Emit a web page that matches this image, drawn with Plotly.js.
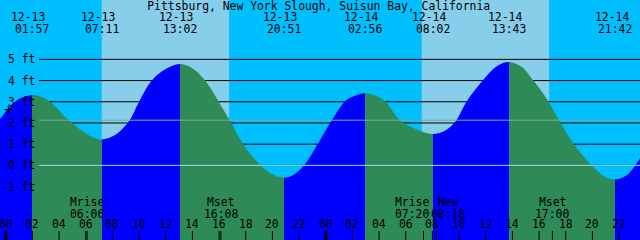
<!DOCTYPE html>
<html>
<head>
<meta charset="utf-8">
<script src="https://cdn.plot.ly/plotly-3.0.1.min.js"></script>
<style>
html,body{margin:0;padding:0;background:#00BFFF;}
#chart{width:640px;height:240px;}
</style>
</head>
<body>
<div id="chart"></div>
<script>
// ---------- data (hours counted from 12-13 00:00, heights in feet) ----------
const stationName = "Pittsburg, New York Slough, Suisun Bay, California";

const tideHours = [-0.43, 0.3, 1.05, 1.95, 2.6, 3.32, 4.58, 5.82, 6.5, 7.183,
  8.2, 9.2, 10.02, 10.95, 12.0, 13.033, 14.0, 14.95, 15.95, 16.88,
  17.82, 19.13, 20.0, 20.85, 21.6, 22.37, 23.57, 24.38, 25.45, 26.2,
  26.933, 27.7, 28.45, 29.57, 30.8, 32.033, 33.0, 33.7, 34.58, 35.78,
  36.8, 37.717, 38.7, 39.57, 40.7, 41.57, 42.62, 43.95, 44.9, 45.7,
  46.6, 47.57];
const tideFeet = [2.18, 2.75, 3.15, 3.32, 3.25, 3.0, 2.22, 1.58, 1.33, 1.22,
  1.43, 2.04, 3.03, 4.0, 4.54, 4.78, 4.58, 4.0, 3.03, 2.04,
  0.99, 0.0, -0.42, -0.58, -0.44, 0.0, 1.19, 2.04, 3.03, 3.28,
  3.40, 3.30, 3.03, 2.13, 1.70, 1.48, 1.66, 2.04, 3.03, 4.0,
  4.66, 4.87, 4.65, 4.0, 3.03, 2.04, 0.99, 0.0, -0.53, -0.66,
  -0.45, 0.34];

const extremeHours = [1.95, 7.183, 13.033, 20.85, 26.933, 32.033, 37.717, 45.7];
const extremeDates = ["12-13", "12-13", "12-13", "12-13", "12-14", "12-14", "12-14", "12-14"];
const extremeTimes = ["01:57", "07:11", "13:02", "20:51", "02:56", "08:02", "13:43", "21:42"];

const sunriseHours = [7.2, 31.2];
const sunsetHours = [16.75, 40.75];

const moonHours = [6.1, 16.133, 31.333, 32.3, 41.0];
const moonNames = ["Mrise", "Mset", "Mrise", "New", "Mset"];
const moonTimes = ["06:06", "16:08", "07:20", "08:18", "17:00"];

const hourTickHours = [0, 2, 4, 6, 8, 10, 12, 14, 16, 18, 20, 22,
  24, 26, 28, 30, 32, 34, 36, 38, 40, 42, 44, 46];
const hourTickLabels = ["00", "02", "04", "06", "08", "10", "12", "14", "16", "18", "20", "22",
  "00", "02", "04", "06", "08", "10", "12", "14", "16", "18", "20", "22"];

const depthFeet = [-1, 0, 1, 2, 3, 4, 5];
const datumFeet = 0;
const meanLevelFeet = 2.13;
const markFeet = 2.61;

// ---------- styling ----------
const FONT = "DejaVu Sans Mono";
const FS = 11.4;
const C_NIGHT = "#00BFFF", C_DAY = "#87CEEB", C_RISE = "#0000FF", C_FALL = "#2E8B57";
const X_RANGE = [-0.43, 47.57];
const Y_RANGE = [-3.52, 7.80];
const FLOOR = -10;
const LINE_X0 = 39 / 640;
const moonShift = [0, 0, -11.5, 12, 0];

// ---------- fill gradient: blue while rising, green while falling ----------
const t0 = tideHours[0], t1 = tideHours[tideHours.length - 1];
const bounds = [t0].concat(extremeHours, [t1]);
function feetAt(h) { return tideFeet[tideHours.indexOf(h)]; }
const colorscale = [];
for (let i = 0; i < bounds.length - 1; i++) {
  const a = bounds[i], b = bounds[i + 1];
  const col = feetAt(b) > feetAt(a) ? C_RISE : C_FALL;
  colorscale.push([(a - t0) / (t1 - t0), col]);
  colorscale.push([(b - t0) / (t1 - t0), col]);
}
colorscale[0][0] = 0;
colorscale[colorscale.length - 1][0] = 1;

const traces = [
  {
    x: [t0, t1], y: [FLOOR, FLOOR], mode: "lines",
    line: {width: 0, color: "rgba(0,0,0,0)"}, hoverinfo: "skip", showlegend: false
  },
  {
    x: tideHours, y: tideFeet, mode: "lines",
    line: {width: 0, shape: "spline", smoothing: 1, color: "rgba(0,0,0,0)"},
    fill: "tonexty",
    fillcolor: C_RISE,
    fillgradient: {type: "horizontal", start: t0, stop: t1, colorscale: colorscale},
    hoverinfo: "skip", showlegend: false
  }
];

// ---------- shapes ----------
const shapes = [];
// daylight bands
for (let i = 0; i < sunriseHours.length; i++) {
  shapes.push({type: "rect", layer: "below", xref: "x", yref: "paper",
    x0: sunriseHours[i], x1: sunsetHours[i], y0: 0, y1: 1,
    fillcolor: C_DAY, line: {width: 0}});
}
// depth lines (under the water)
depthFeet.forEach(f => shapes.push({type: "line", layer: "below", xref: "paper", yref: "y",
  x0: LINE_X0, x1: 1, y0: f, y1: f, line: {color: "#000", width: 1}}));
// datum and mean level lines (over everything)
shapes.push({type: "line", layer: "above", xref: "paper", yref: "y",
  x0: LINE_X0, x1: 1, y0: datumFeet, y1: datumFeet, line: {color: "#A4D9F2", width: 1}});
shapes.push({type: "line", layer: "above", xref: "paper", yref: "y",
  x0: LINE_X0, x1: 1, y0: meanLevelFeet, y1: meanLevelFeet, line: {color: "#78AC96", width: 1}});
// hour ticks
hourTickHours.forEach(h => shapes.push({type: "line", layer: "above", xref: "x", yref: "paper",
  x0: h, x1: h, y0: 0, y1: 9 / 240, line: {color: "#000", width: h % 24 === 0 ? 3 : 1}}));
// moon ticks
moonHours.forEach(h => shapes.push({type: "line", layer: "above", xref: "x", yref: "paper",
  x0: h, x1: h, y0: 0, y1: 9 / 240, line: {color: "#000", width: 1}}));

// ---------- annotations ----------
const ann = [];
const base = {showarrow: false, font: {family: FONT, size: FS, color: "#000"}};
extremeHours.forEach((h, i) => {
  ann.push(Object.assign({}, base, {xref: "x", yref: "paper", x: h, y: 1 - 17.3 / 240,
    xanchor: "center", yanchor: "middle", xshift: -3.4, text: extremeDates[i]}));
  ann.push(Object.assign({}, base, {xref: "x", yref: "paper", x: h, y: 1 - 29.3 / 240,
    xanchor: "center", yanchor: "middle", text: extremeTimes[i]}));
});
moonHours.forEach((h, i) => {
  ann.push(Object.assign({}, base, {xref: "x", yref: "paper", x: h, y: 1 - 201.7 / 240,
    xanchor: "center", yanchor: "middle", xshift: moonShift[i], text: moonNames[i]}));
  ann.push(Object.assign({}, base, {xref: "x", yref: "paper", x: h, y: 1 - 213.5 / 240,
    xanchor: "center", yanchor: "middle", xshift: moonShift[i], text: moonTimes[i]}));
});
hourTickHours.forEach((h, i) => {
  ann.push(Object.assign({}, base, {xref: "x", yref: "paper", x: h, y: 1 - 224 / 240,
    xanchor: "center", yanchor: "middle", text: hourTickLabels[i]}));
});
depthFeet.forEach(f => {
  ann.push(Object.assign({}, base, {xref: "paper", yref: "y", x: 36.5 / 640, y: f,
    xanchor: "right", yanchor: "middle", text: f + " ft"}));
});
ann.push(Object.assign({}, base, {xref: "paper", yref: "y", x: 8.5 / 640, y: markFeet,
  xanchor: "center", yanchor: "middle", text: "+", font: {family: FONT, size: 15, color: "#000"}}));

const layout = {
  width: 640, height: 240,
  margin: {l: 0, r: 0, t: 0, b: 0, pad: 0},
  paper_bgcolor: C_NIGHT, plot_bgcolor: "rgba(0,0,0,0)",
  font: {family: FONT, size: FS, color: "#000"},
  title: {text: stationName, x: 0.498, xanchor: "center", xref: "paper",
    y: 1 - 2.5 / 240, yref: "container", yanchor: "top", pad: {t: 0, b: 0, l: 0, r: 0},
    font: {family: FONT, size: FS, color: "#000"}},
  xaxis: {range: X_RANGE, visible: false, fixedrange: true},
  yaxis: {range: Y_RANGE, visible: false, fixedrange: true},
  showlegend: false,
  shapes: shapes,
  annotations: ann
};

Plotly.newPlot("chart", traces, layout, {staticPlot: true, displayModeBar: false});
</script>
</body>
</html>
